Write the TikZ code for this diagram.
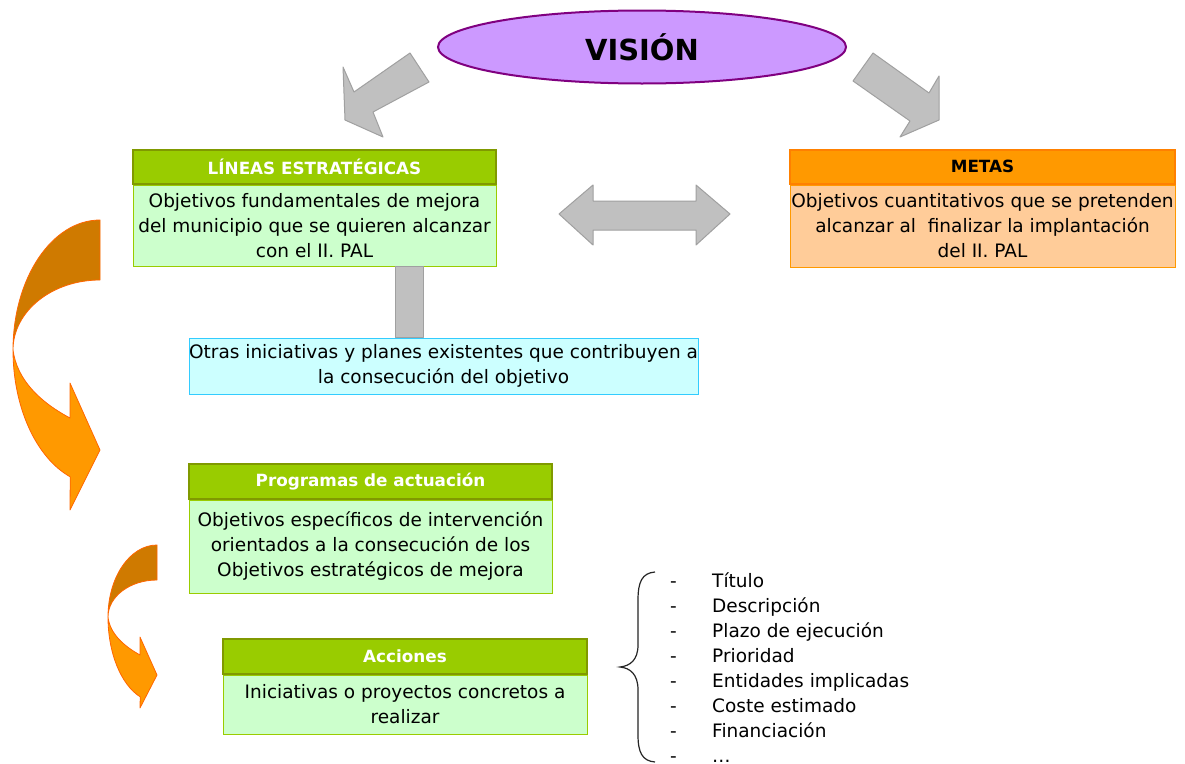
\documentclass[tikz,border=0pt]{standalone}
\usepackage{fontspec}
\setmainfont{DejaVu Sans}
\usetikzlibrary{positioning,shapes.geometric}
\definecolor{visionviolet}{RGB}{204,153,255}
\definecolor{visionborder}{RGB}{128,0,128}
\definecolor{headgreen}{RGB}{153,204,0}
\definecolor{headborder}{RGB}{128,153,0}
\definecolor{bodygreen}{RGB}{204,255,204}
\definecolor{metasorange}{RGB}{255,153,0}
\definecolor{metasborder}{RGB}{255,128,0}
\definecolor{metasbody}{RGB}{255,204,153}
\definecolor{otrascyan}{RGB}{204,255,255}
\definecolor{otrasborder}{RGB}{51,204,255}
\definecolor{arrowgray}{RGB}{192,192,192}
\definecolor{arrowborder}{RGB}{160,160,160}
\definecolor{curveorange}{RGB}{255,153,0}
\definecolor{curvedark}{RGB}{207,122,0}
\definecolor{curveborder}{RGB}{255,102,0}

\begin{document}
\begin{tikzpicture}[x=1pt, y=-1pt,
    bodytext/.style={font=\fontsize{18.5}{25}\selectfont},
    headbox/.style={draw=headborder, line width=1.5pt, fill=headgreen, text=white,
        font=\bfseries\fontsize{16.8}{20}\selectfont, inner sep=0pt},
    greenbox/.style={draw=headgreen, line width=1pt, fill=bodygreen, align=center,
        inner sep=0pt, bodytext},
    grayblock/.style={draw=arrowborder, fill=arrowgray, line width=1pt, line join=round},
    curvepart/.style={draw=curveborder, line width=0.8pt, line join=round}]

    \useasboundingbox[fill=white] (0,0) rectangle (1185,763);

    % Curved arrows on the left
    \draw[curvepart, fill=curvedark] (100,220)
        arc[start angle=270, end angle=180, x radius=87, y radius=130]
        arc[start angle=180, end angle=270, x radius=87, y radius=70] -- cycle;
    \draw[curvepart, fill=curveorange] (13,350)
        arc[start angle=180, end angle=110, x radius=87, y radius=135]
        -- (70,510) -- (100,450) -- (70,383) -- (70,418)
        .. controls (40,402) and (17,380) .. (13,350) -- cycle;
    \draw[curvepart, fill=curvedark] (157,545)
        arc[start angle=270, end angle=180, x radius=49, y radius=72]
        arc[start angle=180, end angle=270, x radius=49, y radius=37] -- cycle;
    \draw[curvepart, fill=curveorange] (108,617)
        arc[start angle=180, end angle=110, x radius=49, y radius=85]
        -- (140,708) -- (157,675) -- (140,637) -- (140,655)
        .. controls (124,646) and (110,634) .. (108,617) -- cycle;

    % Vision
    \node[ellipse, draw=visionborder, line width=2pt, fill=visionviolet,
        minimum width=408, minimum height=73,
        font=\bfseries\fontsize{29}{34}\selectfont] (vision) at (642,47) {VISIÓN};

    % Lineas estrategicas
    \node[greenbox, minimum width=363, minimum height=81] (lineasbody) at (314.5,225.5)
        {Objetivos fundamentales de mejora\\del municipio que se quieren alcanzar\\con el II. PAL};
    \node[headbox, minimum width=363, minimum height=34, above=0pt of lineasbody] (lineas)
        {LÍNEAS ESTRATÉGICAS};

    % Metas
    \node[greenbox, draw=metasorange, fill=metasbody, minimum width=385, minimum height=82]
        (metasbody) at (982.5,226)
        {Objetivos cuantitativos que se pretenden\\alcanzar al \ finalizar la implantación\\del II. PAL};
    \node[headbox, draw=metasborder, fill=metasorange, text=black, minimum width=385,
        minimum height=34, above=0pt of metasbody] (metas) {METAS};

    % Otras iniciativas
    \node[greenbox, draw=otrasborder, fill=otrascyan, minimum width=509, minimum height=56]
        (otras) at (443.5,366)
        {Otras iniciativas y planes existentes que contribuyen a\\la consecución del objetivo};

    % Programas de actuacion
    \node[greenbox, minimum width=363, minimum height=93] (programasbody) at (370.5,546.5)
        {Objetivos específicos de intervención\\orientados a la consecución de los\\Objetivos estratégicos de mejora};
    \node[headbox, minimum width=363, minimum height=35, above=0pt of programasbody] (programas)
        {Programas de actuación};

    % Acciones
    \node[greenbox, minimum width=364, minimum height=59] (accionesbody) at (405,704.5)
        {Iniciativas o proyectos concretos a\\realizar};
    \node[headbox, minimum width=364, minimum height=35, above=0pt of accionesbody] (acciones)
        {Acciones};

    % Gray block arrows
    \draw[grayblock] (410,53) -- (429,82) -- (373,112) -- (383,137) -- (345,120)
        -- (343,67) -- (354,92) -- cycle;
    \draw[grayblock] (873,53) -- (853,81) -- (910,121) -- (900,137) -- (939,120)
        -- (939,76) -- (929,93) -- cycle;
    \draw[grayblock] (559,214) -- (593,185) -- (593,201) -- (696,201) -- (696,185)
        -- (730,214) -- (696,245) -- (696,230) -- (593,230) -- (593,245) -- cycle;
    \draw[grayblock] ([xshift=80.5pt]lineasbody.south) rectangle ([xshift=-20.5pt]otras.north);

    % Brace and list of fields
    \draw[line width=1.2pt, black!85] (655,572) .. controls (642,573) and (638,582) .. (638,600)
        -- (638,645) .. controls (638,660) and (630,666) .. (620,667)
        .. controls (630,668) and (638,674) .. (638,690)
        -- (638,735) .. controls (638,752) and (642,761) .. (655,762);
    \node[anchor=base west, inner sep=0pt, bodytext] (campos) at (670,587)
        {\begin{tabular}[t]{@{}p{42pt}@{}l@{}}
        - & Título\\
        - & Descripción\\
        - & Plazo de ejecución\\
        - & Prioridad\\
        - & Entidades implicadas\\
        - & Coste estimado\\
        - & Financiación\\
        - & …
        \end{tabular}};
\end{tikzpicture}
\end{document}
